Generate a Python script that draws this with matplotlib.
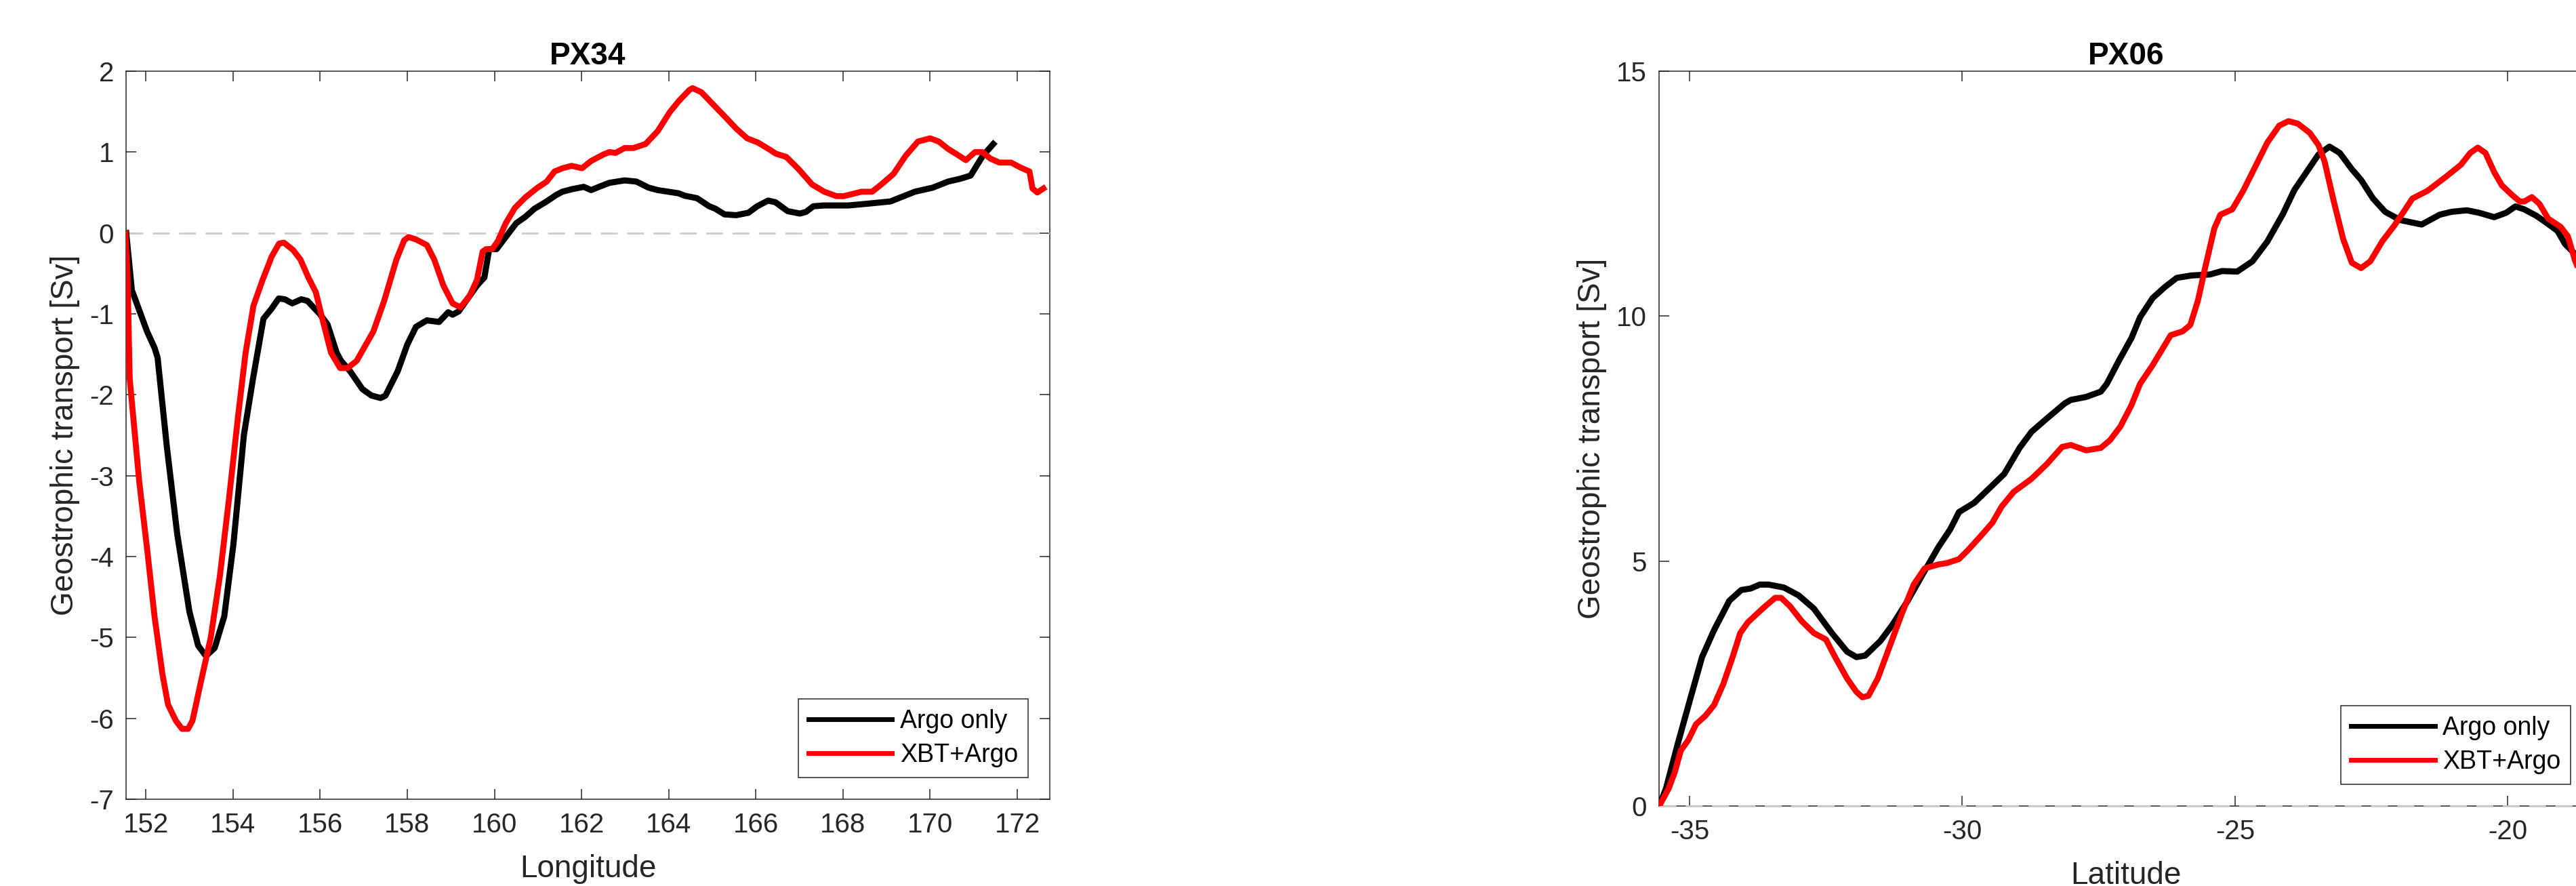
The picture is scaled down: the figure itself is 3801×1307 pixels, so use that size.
import numpy as np
import matplotlib
matplotlib.use("Agg")
import matplotlib.pyplot as plt

plt.rcParams['font.family'] = ['Liberation Sans', 'DejaVu Sans']
plt.rcParams['axes.unicode_minus'] = False

# PX34 (longitude section)
px34_lon_argo = [151.55, 151.68, 151.75, 152.03, 152.20, 152.27, 152.48, 152.72, 153.00, 153.20,
                 153.38, 153.58, 153.80, 154.01, 154.25, 154.46, 154.70, 154.88, 155.05, 155.19,
                 155.36, 155.57, 155.71, 155.99, 156.17, 156.38, 156.48, 156.69, 156.97, 157.18,
                 157.39, 157.50, 157.78, 158.00, 158.20, 158.45, 158.73, 158.94, 159.04, 159.18,
                 159.35, 159.60, 159.77, 159.88, 160.05, 160.33, 160.50, 160.71, 160.92, 161.17,
                 161.42, 161.56, 161.77, 162.05, 162.22, 162.40, 162.64, 162.99, 163.26, 163.54,
                 163.75, 164.23, 164.37, 164.65, 164.93, 165.07, 165.28, 165.55, 165.83, 166.03,
                 166.28, 166.45, 166.73, 167.01, 167.15, 167.32, 167.56, 168.12, 168.53, 169.09,
                 169.65, 170.06, 170.41, 170.69, 170.93, 171.21, 171.45]
px34_argo = [0.00, -0.71, -0.81, -1.22, -1.42, -1.54, -2.63, -3.72, -4.68, -5.10,
             -5.23, -5.13, -4.74, -3.85, -2.50, -1.80, -1.06, -0.94, -0.81, -0.82,
             -0.87, -0.82, -0.84, -1.00, -1.13, -1.48, -1.58, -1.71, -1.93, -2.01,
             -2.04, -2.01, -1.71, -1.38, -1.16, -1.08, -1.10, -0.98, -1.01, -0.97,
             -0.84, -0.65, -0.55, -0.20, -0.20, 0.00, 0.12, 0.20, 0.30, 0.38,
             0.47, 0.51, 0.54, 0.57, 0.53, 0.57, 0.62, 0.65, 0.635, 0.56,
             0.53, 0.49, 0.46, 0.43, 0.33, 0.30, 0.23, 0.22, 0.25, 0.33,
             0.40, 0.38, 0.27, 0.24, 0.26, 0.33, 0.34, 0.34, 0.36, 0.39,
             0.51, 0.56, 0.635, 0.67, 0.71, 0.955, 1.10]

px34_lon_xbt = [151.53, 151.58, 151.63, 151.75, 151.85, 152.03, 152.20, 152.38, 152.51, 152.69,
                152.83, 152.97, 153.07, 153.28, 153.49, 153.70, 153.91, 154.12, 154.29, 154.47,
                154.68, 154.89, 155.06, 155.17, 155.38, 155.55, 155.73, 155.90, 156.07, 156.25,
                156.46, 156.63, 156.84, 157.05, 157.22, 157.47, 157.75, 157.93, 158.03, 158.20,
                158.45, 158.62, 158.83, 159.04, 159.22, 159.43, 159.60, 159.73, 159.81, 159.95,
                160.08, 160.26, 160.47, 160.71, 160.99, 161.20, 161.38, 161.56, 161.77, 162.01,
                162.22, 162.50, 162.64, 162.78, 162.99, 163.19, 163.47, 163.75, 164.02, 164.23,
                164.48, 164.55, 164.75, 165.00, 165.27, 165.55, 165.80, 166.04, 166.32, 166.46,
                166.70, 166.98, 167.29, 167.57, 167.85, 168.01, 168.43, 168.67, 168.88, 169.16,
                169.44, 169.72, 170.00, 170.20, 170.41, 170.62, 170.82, 171.03, 171.20, 171.38,
                171.59, 171.86, 172.07, 172.28, 172.35, 172.46, 172.60]
px34_xbt = [0.00, -0.52, -1.80, -2.50, -3.08, -3.91, -4.74, -5.45, -5.83, -6.03,
            -6.13, -6.13, -6.03, -5.51, -5.00, -4.24, -3.28, -2.25, -1.48, -0.90,
            -0.58, -0.29, -0.13, -0.12, -0.21, -0.33, -0.55, -0.73, -1.10, -1.48,
            -1.67, -1.67, -1.58, -1.38, -1.22, -0.84, -0.33, -0.09, -0.05, -0.08,
            -0.15, -0.33, -0.65, -0.87, -0.92, -0.78, -0.58, -0.23, -0.20, -0.20,
            -0.10, 0.12, 0.31, 0.44, 0.56, 0.635, 0.76, 0.80, 0.83, 0.80,
            0.89, 0.97, 1.00, 0.99, 1.05, 1.05, 1.10, 1.26, 1.49, 1.63,
            1.77, 1.79, 1.74, 1.60, 1.45, 1.29, 1.17, 1.12, 1.03, 0.98,
            0.94, 0.79, 0.60, 0.51, 0.455, 0.455, 0.51, 0.51, 0.60, 0.73,
            0.955, 1.13, 1.17, 1.13, 1.04, 0.97, 0.90, 1.00, 1.00, 0.92,
            0.87, 0.87, 0.81, 0.76, 0.55, 0.50, 0.55]

# PX06 (latitude section)
px06_lat_argo = [-35.555, -35.43, -35.21, -34.99, -34.77, -34.55, -34.27, -34.05, -33.88, -33.71,
                 -33.55, -33.27, -33.00, -32.72, -32.39, -32.11, -31.94, -31.78, -31.50, -31.28,
                 -31.00, -30.72, -30.44, -30.22, -30.06, -29.78, -29.50, -29.23, -28.95, -28.73,
                 -28.45, -28.12, -28.01, -27.73, -27.46, -27.35, -27.12, -26.90, -26.74, -26.51,
                 -26.29, -26.07, -25.80, -25.46, -25.24, -24.96, -24.68, -24.41, -24.13, -23.91,
                 -23.69, -23.47, -23.27, -23.08, -22.86, -22.69, -22.47, -22.25, -21.97, -21.58,
                 -21.25, -21.03, -20.75, -20.53, -20.25, -20.03, -19.86, -19.70, -19.48, -19.26,
                 -19.09, -18.95, -18.77, -18.65]
px06_argo = [0.00, 0.36, 1.29, 2.17, 3.04, 3.59, 4.19, 4.41, 4.44, 4.52,
             4.52, 4.46, 4.30, 4.03, 3.53, 3.15, 3.04, 3.07, 3.37, 3.70,
             4.19, 4.74, 5.28, 5.65, 6.00, 6.19, 6.49, 6.78, 7.31, 7.64,
             7.91, 8.22, 8.29, 8.35, 8.46, 8.62, 9.11, 9.55, 9.98, 10.37,
             10.59, 10.78, 10.83, 10.85, 10.92, 10.91, 11.12, 11.52, 12.07, 12.58,
             12.94, 13.30, 13.46, 13.33, 13.00, 12.78, 12.40, 12.13, 11.96, 11.87,
             12.07, 12.13, 12.16, 12.11, 12.02, 12.11, 12.24, 12.18, 12.05, 11.88,
             11.74, 11.47, 11.27, 11.20]

px06_lat_xbt = [-35.555, -35.38, -35.27, -35.16, -35.02, -34.88, -34.71, -34.55, -34.38, -34.21,
                -34.07, -33.93, -33.66, -33.43, -33.32, -33.16, -32.94, -32.72, -32.50, -32.33,
                -32.11, -31.94, -31.83, -31.72, -31.55, -31.33, -31.11, -30.89, -30.69, -30.44,
                -30.28, -30.06, -29.89, -29.67, -29.45, -29.28, -29.06, -28.73, -28.45, -28.17,
                -28.01, -27.73, -27.46, -27.29, -27.10, -26.90, -26.74, -26.51, -26.18, -25.96,
                -25.82, -25.68, -25.54, -25.38, -25.27, -25.05, -24.85, -24.63, -24.41, -24.19,
                -24.02, -23.85, -23.63, -23.47, -23.36, -23.19, -23.02, -22.86, -22.69, -22.52,
                -22.30, -22.08, -21.91, -21.75, -21.47, -21.14, -20.86, -20.69, -20.55, -20.41,
                -20.25, -20.11, -19.92, -19.78, -19.70, -19.56, -19.42, -19.26, -19.03, -18.90,
                -18.77, -18.70]
px06_xbt = [0.00, 0.36, 0.69, 1.13, 1.35, 1.67, 1.84, 2.06, 2.49, 3.04,
            3.53, 3.75, 4.03, 4.25, 4.25, 4.08, 3.77, 3.53, 3.40, 3.04,
            2.60, 2.33, 2.22, 2.25, 2.60, 3.26, 3.92, 4.52, 4.85, 4.93,
            4.96, 5.04, 5.23, 5.50, 5.78, 6.11, 6.41, 6.68, 6.98, 7.33,
            7.37, 7.26, 7.31, 7.47, 7.75, 8.18, 8.62, 9.00, 9.61, 9.69,
            9.82, 10.32, 11.03, 11.79, 12.07, 12.18, 12.56, 13.05, 13.54, 13.89,
            13.98, 13.93, 13.74, 13.49, 13.16, 12.34, 11.58, 11.09, 10.98, 11.12,
            11.53, 11.85, 12.13, 12.40, 12.56, 12.84, 13.09, 13.33, 13.44, 13.33,
            12.94, 12.67, 12.47, 12.34, 12.34, 12.43, 12.29, 11.99, 11.82, 11.63,
            11.14, 10.95]

series_labels = ['Argo only', 'XBT+Argo']
ylabel_txt = 'Geostrophic transport [Sv]'

dark = (0.15, 0.15, 0.15)

fig = plt.figure(figsize=(38.01, 13.07), dpi=100)
ax1 = fig.add_axes([0.04893, 0.09793, 0.35859, 0.82173])
ax2 = fig.add_axes([0.64404, 0.09028, 0.36254, 0.82938])


def style_axes(ax, title, xlabel, xticks, yticks, xlim, ylim):
    ax.set_xlim(xlim)
    ax.set_ylim(ylim)
    ax.set_xticks(xticks)
    ax.set_yticks(yticks)
    ax.tick_params(direction='in', length=10.8, width=1.1, colors=dark,
                   labelsize=29, top=True, right=True)
    ax.tick_params(axis='x', pad=14)
    ax.tick_params(axis='y', pad=13)
    for s in ax.spines.values():
        s.set_color(dark)
        s.set_linewidth(1.1)
    ax.set_title(title, fontsize=33, fontweight='bold', pad=7)
    ax.set_xlabel(xlabel, fontsize=33, color=dark, labelpad=17)
    ax.set_ylabel(ylabel_txt, fontsize=33, color=dark, labelpad=10)


def add_legend(ax, anchor):
    leg = ax.legend(loc='lower right', bbox_to_anchor=anchor, borderaxespad=0,
                    fontsize=27, handlelength=3.3, handletextpad=0.3,
                    borderpad=0.4, labelspacing=0.38, fancybox=False,
                    framealpha=1, edgecolor=dark)
    leg.get_frame().set_linewidth(1.1)
    for ln in leg.get_lines():
        ln.set_linewidth(5)


# left panel
ax1.axhline(0, color=(0.8, 0.8, 0.8), ls=(0, (9, 5)), lw=2, zorder=2.6)
ax1.plot(px34_lon_argo, px34_argo, color='k', lw=6.5, label=series_labels[0], zorder=3)
ax1.plot(px34_lon_xbt, px34_xbt, color='r', lw=6.3, label=series_labels[1], zorder=3)
style_axes(ax1, 'PX34', 'Longitude', np.arange(152, 173, 2), np.arange(-7, 3, 1),
           (151.546, 172.746), (-7, 2))
add_legend(ax1, (1 - 32 / 1363, 32 / 1074))

# right panel
ax2.axhline(0, color=(0.8, 0.8, 0.8), ls=(0, (9, 5)), lw=2, zorder=2.6, clip_on=False)
ax2.plot(px06_lat_argo, px06_argo, color='k', lw=6.5, label=series_labels[0], zorder=3)
ax2.plot(px06_lat_xbt, px06_xbt, color='r', lw=6.3, label=series_labels[1], zorder=3)
style_axes(ax2, 'PX06', 'Latitude', [-35, -30, -25, -20], [0, 5, 10, 15],
           (-35.558, -18.44), (0, 15))
add_legend(ax2, (1 - 33 / 1378, 32 / 1084))

fig.savefig('out.png', dpi=100)
